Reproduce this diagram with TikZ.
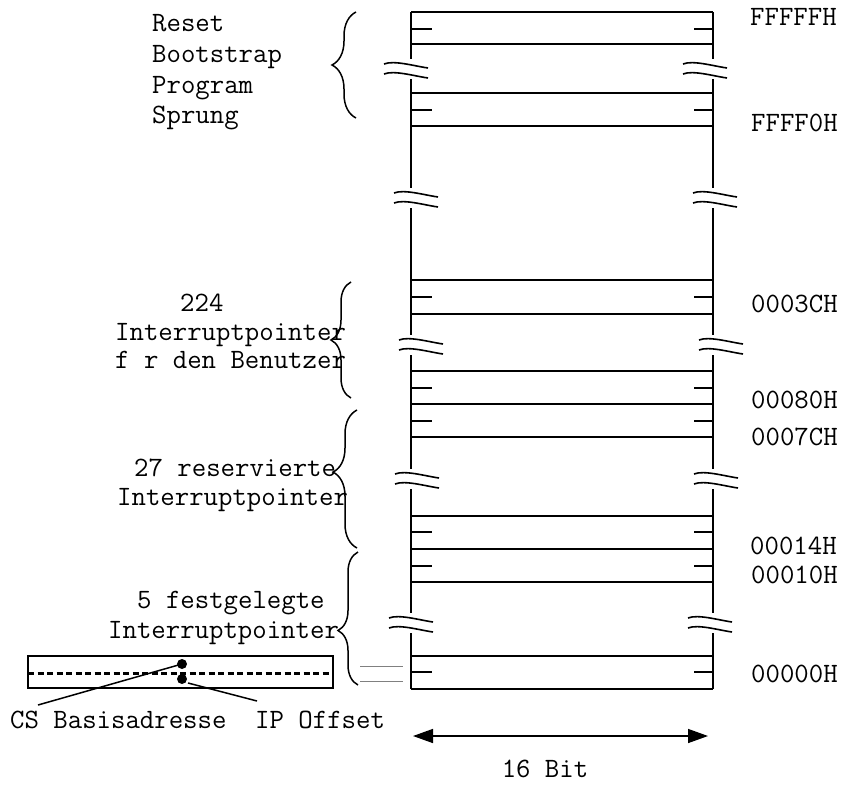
\documentclass[tikz,border=0pt]{standalone}
\usepackage{tikz}
\usetikzlibrary{arrows.meta,decorations.pathreplacing}

% break mark: line x, wave offset, centre y
\newcommand{\breakmark}[3]{%
  \draw[wave] ({#1+#2-22},#3-5) .. controls ({#1+#2-12},#3-9) and ({#1+#2+8},#3-3) .. ({#1+#2+22},#3-1);
  \draw[wave] ({#1+#2-22},#3+5) .. controls ({#1+#2-12},#3+1) and ({#1+#2+8},#3+7) .. ({#1+#2+22},#3+9);
}

\begin{document}
\begin{tikzpicture}[x=1pt,y=-1pt,
  every node/.style={font=\ttfamily\fontsize{28}{30}\selectfont,inner sep=0pt},
  col/.style={line width=2pt},
  wave/.style={line width=1.6pt},
  bracemark/.style={line width=1.5pt,decorate,decoration={brace,amplitude=24pt,raise=0pt}}]

\useasboundingbox (0,0) rectangle (845,784);

% Column sides
\foreach \a/\b in {12/59, 79/188, 208/335, 355/469, 489/613, 633/689}{
  \draw[col] (411,\a) -- (411,\b);
  \draw[col] (713,\a) -- (713,\b);
}

% Rows
\foreach \y in {12,44,93,126,280,314,371,404,437,516,549,582,656,689}
  \draw[col] (411,\y) -- (713,\y);

% Half word ticks
\foreach \y in {29,110,297,388,421,532,566,672}{
  \draw[col] (411,\y) -- (432,\y);
  \draw[col] (694,\y) -- (713,\y);
}

% Breaks
\breakmark{411}{-5}{69}
\breakmark{713}{-8}{69}
\breakmark{411}{5}{198}
\breakmark{713}{2}{198}
\breakmark{411}{10}{345}
\breakmark{713}{8}{345}
\breakmark{411}{6}{479}
\breakmark{713}{3}{479}
\breakmark{411}{0}{623}
\breakmark{713}{-3}{623}

% Addresses
\node[anchor=base west] (aFFFFF) at (750,26) {FFFFFH};
\node[anchor=base west] (aFFFF0) at (751,131) {FFFF0H};
\node[anchor=base west] (a0003C) at (751,312) {0003CH};
\node[anchor=base west] (a00080) at (751,408) {00080H};
\node[anchor=base west] (a0007C) at (751,445) {0007CH};
\node[anchor=base west] (a00014) at (750,554) {00014H};
\node[anchor=base west] (a00010) at (751,583) {00010H};
\node[anchor=base west] (a00000) at (751,682) {00000H};

% Braces
\draw[bracemark] (356,118) -- (356,12);
\draw[bracemark,decoration={amplitude=20pt}] (351,398) -- (351,282);
\draw[bracemark,decoration={aspect=0.55}] (357,548) -- (357,410);
\draw[bracemark,decoration={amplitude=20pt,aspect=0.41}] (358,685) -- (358,552);

% Labels left
\node[anchor=base west] (reset) at (152,32) {Reset};
\node[anchor=base west] (boot) at (152,63) {Bootstrap};
\node[anchor=base west] (prog) at (152,93) {Program};
\node[anchor=base west] (sprung) at (152,123) {Sprung};

\node[anchor=base west] (user1) at (180,311) {224};
\node[anchor=base west] (user2) at (115,340) {Interruptpointer};
\node[anchor=base west] (user3) at (115,368) {f r den Benutzer};

\node[anchor=base west] (res1) at (134,476) {27 reservierte};
\node[anchor=base west] (res2) at (117,505) {Interruptpointer};

\node[anchor=base west] (fix1) at (137,608) {5 festgelegte};
\node[anchor=base west] (fix2) at (108,638) {Interruptpointer};

% Pointer entry
\draw[line width=2pt] (28,656) rectangle (333,688);
\draw[line width=3pt,dash pattern=on 6pt off 3.5pt] (28,673) -- (333,673);
\fill (182,664) circle (5) coordinate (csdot);
\fill (182,679) circle (5) coordinate (ipdot);
\draw[gray,line width=1pt] (360,666) -- (403,666);
\draw[gray,line width=1pt] (360,681) -- (403,681);

\node[anchor=base west] (cs) at (10,728) {CS Basisadresse};
\node[anchor=base west] (ip) at (255,728) {IP Offset};
\coordinate (csend) at (38,705);
\coordinate (ipend) at (257,701);
\draw[line width=1.5pt] (csdot) -- (csend);
\draw[line width=1.5pt] (ipdot) ++(6,4) -- (ipend);

% Width
\coordinate (wl) at (413,736);
\coordinate (wr) at (708,736);
\draw[line width=1.5pt,{Triangle[length=20pt,width=14pt]}-{Triangle[length=20pt,width=14pt]}] (wl) -- (wr);
\node[anchor=base] (bits) at (545,777) {16 Bit};

\end{tikzpicture}
\end{document}
